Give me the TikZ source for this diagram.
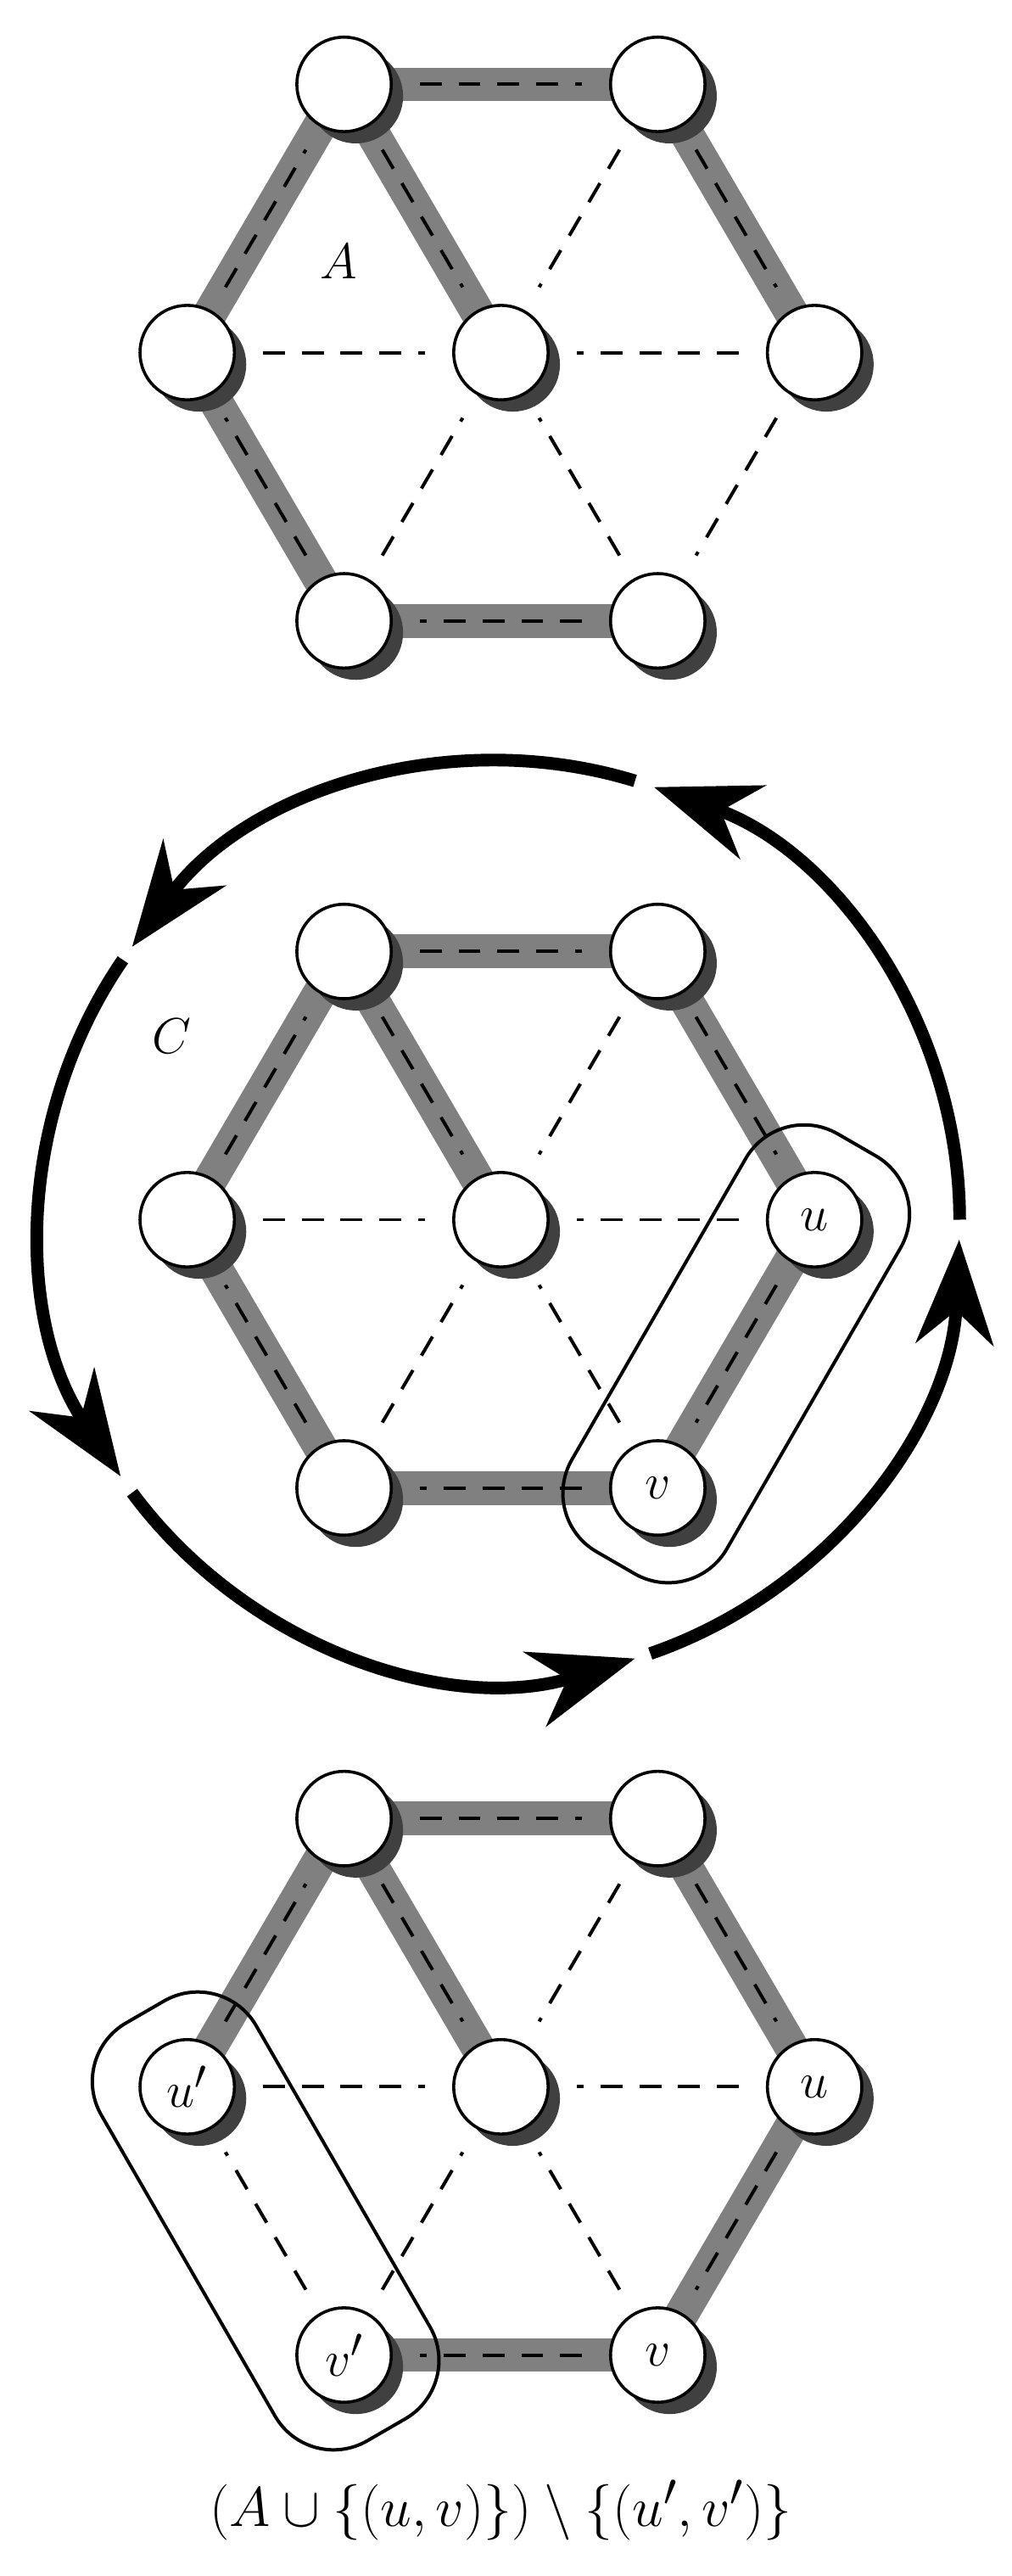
\documentclass[tikz,border=0pt]{standalone}
\usetikzlibrary{shadows,arrows.meta,calc}
\pgfdeclarelayer{bg}\pgfsetlayers{bg,main}
\tikzset{
 vert/.style={circle,draw=black,line width=1.8pt,fill=white,minimum size=56pt,inner sep=0pt,font=\fontsize{24.88}{30}\selectfont,
   drop shadow={shadow xshift=7pt,shadow yshift=-7pt,fill=black!75,opacity=1}},
 mat/.style={line width=20pt,draw=black!50},
 dsh/.style={dash pattern=on 13pt off 10pt,line width=2pt,shorten <=16pt,shorten >=16pt},
 arr/.style={line width=7.5pt,-{Stealth[length=62pt,width=46pt,inset=20pt]}},
 box/.style={draw,line width=2pt,rounded corners=40pt,minimum height=106pt,minimum width=286pt,inner sep=0pt},
 lbl/.style={font=\fontsize{24.88}{30}\selectfont}
}
\newcommand{\mylet}[1]{\scalebox{1.2}{$#1$}}
\newcommand{\mkverts}[9]{%
 \node[vert] (#1tl) at (204pt,-#2pt) {#3};
 \node[vert] (#1tr) at (390pt,-#2pt) {#4};
 \node[vert] (#1l) at (111pt,-#2pt-159pt) {#5};
 \node[vert] (#1c) at (297pt,-#2pt-159pt) {#6};
 \node[vert] (#1r) at (483pt,-#2pt-159pt) {#7};
 \node[vert] (#1bl) at (204pt,-#2pt-318pt) {#8};
 \node[vert] (#1br) at (390pt,-#2pt-318pt) {#9};
}
\newcommand{\medge}[2]{\draw[mat] (#1.center)--(#2.center);\draw[dsh] (#1)--(#2);}
\newcommand{\dedge}[2]{\draw[dsh] (#1)--(#2);}
\begin{document}
\begin{tikzpicture}[x=1pt,y=1pt]
\useasboundingbox (0,0) rectangle (600,-1527);
% graph 1
\mkverts{a}{50}{}{}{}{}{}{}{}
\node[lbl] (la) at (201,-155) {\mylet{A}};
\begin{pgfonlayer}{bg}
\medge{atl}{atr}\medge{atr}{ar}\dedge{ar}{abr}\medge{abr}{abl}\medge{abl}{al}\medge{al}{atl}
\medge{atl}{ac}\dedge{atr}{ac}\dedge{al}{ac}\dedge{ar}{ac}\dedge{abl}{ac}\dedge{abr}{ac}
\end{pgfonlayer}
% graph 2
\mkverts{b}{564}{}{}{}{}{\mylet{u}}{}{\mylet{v}}
\node[lbl] (lc) at (102,-614) {\mylet{C}};
\begin{pgfonlayer}{bg}
\medge{btl}{btr}\medge{btr}{br}\medge{br}{bbr}\medge{bbr}{bbl}\medge{bbl}{bl}\medge{bl}{btl}
\medge{btl}{bc}\dedge{btr}{bc}\dedge{bl}{bc}\dedge{br}{bc}\dedge{bbl}{bc}\dedge{bbr}{bc}
\end{pgfonlayer}
\node[box,rotate=60] (bx1) at ($(br)!0.5!(bbr)$) {};
\draw[arr] ([shift={(0:272)}]bc.center) arc[start angle=0,end angle=70.5,radius=272];
\draw[arr] ([shift={(73:272)}]bc.center) arc[start angle=73,end angle=143.5,radius=272];
\draw[arr] ([shift={(145.5:272)}]bc.center) arc[start angle=145.5,end angle=214,radius=272];
\draw[arr] ([shift={(216.5:272)}]bc.center) arc[start angle=216.5,end angle=287,radius=272];
\draw[arr] ([shift={(289:272)}]bc.center) arc[start angle=289,end angle=357.5,radius=272];
% graph 3
\mkverts{c}{1078}{}{}{\mylet{u'}}{}{\mylet{u}}{\mylet{v'}}{\mylet{v}}
\begin{pgfonlayer}{bg}
\medge{ctl}{ctr}\medge{ctr}{cr}\medge{cr}{cbr}\medge{cbr}{cbl}\dedge{cbl}{cl}\medge{cl}{ctl}
\medge{ctl}{cc}\dedge{ctr}{cc}\dedge{cl}{cc}\dedge{cr}{cc}\dedge{cbl}{cc}\dedge{cbr}{cc}
\end{pgfonlayer}
\node[box,rotate=-60] (bx2) at ($(cl)!0.5!(cbl)$) {};
\node[lbl] (lab) at (297,-1488) {\scalebox{1.33}{$(A\cup\{(u,v)\})\setminus\{(u',v')\}$}};
\end{tikzpicture}
\end{document}
